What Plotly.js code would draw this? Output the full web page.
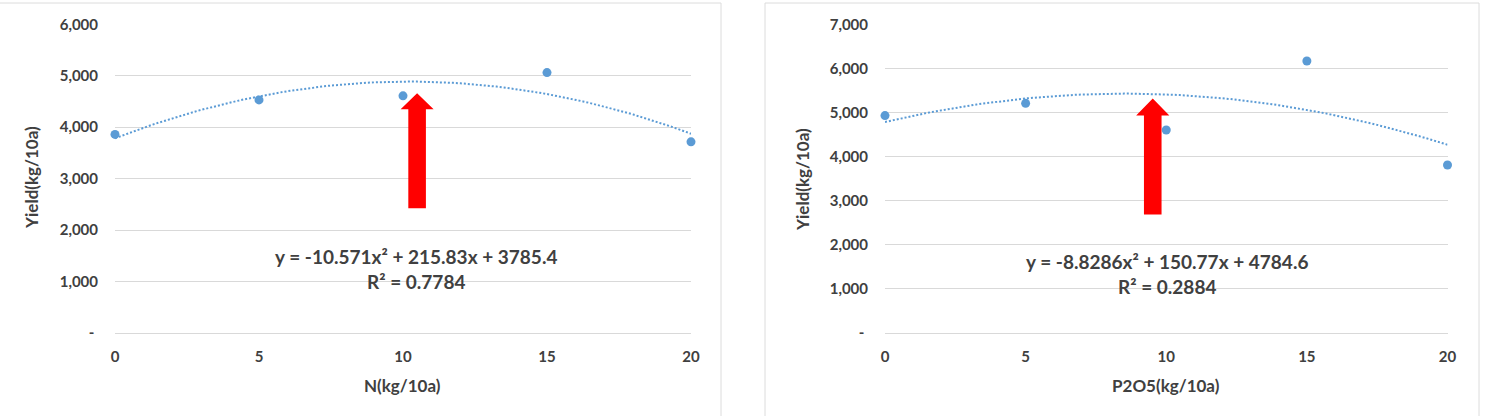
<!DOCTYPE html>
<html>
<head>
<meta charset="utf-8">
<script src="https://cdn.plot.ly/plotly-3.0.1.min.js"></script>
<style>
  html, body { margin: 0; padding: 0; background: #ffffff; }
  #chart { width: 1487px; height: 416px; }
</style>
</head>
<body>
<div id="chart"></div>
<script>
// ---- Data ----
const nLevels = [0, 5, 10, 15, 20];
const nYield = [3860, 4531, 4609, 5062, 3715];
const pLevels = [0, 5, 10, 15, 20];
const pYield = [4930, 5208, 4603, 6168, 3810];

// Polynomial trendline coefficients shown on the chart (a, b, c for a*x^2 + b*x + c)
const nTrendCoef = [-10.571, 215.83, 3785.4];
const pTrendCoef = [-8.8286, 150.77, 4784.6];
const nEquation = "y = -10.571x² + 215.83x + 3785.4";
const nR2 = "R² = 0.7784";
const pEquation = "y = -8.8286x² + 150.77x + 4784.6";
const pR2 = "R² = 0.2884";

// Ticks
const xTickVals = [0, 5, 10, 15, 20];
const xTickText = ["0", "5", "10", "15", "20"];
const nYTickVals = [0, 1000, 2000, 3000, 4000, 5000, 6000];
const nYTickText = ["- ", "1,000", "2,000", "3,000", "4,000", "5,000", "6,000"];
const pYTickVals = [0, 1000, 2000, 3000, 4000, 5000, 6000, 7000];
const pYTickText = ["- ", "1,000", "2,000", "3,000", "4,000", "5,000", "6,000", "7,000"];

const nXTitle = "N(kg/10a)";
const pXTitle = "P2O5(kg/10a)";
const yTitle = "Yield(kg/10a)";

// Red arrows (tip location in data units of each chart)
const nArrowTip = [10.49, 4660];
const pArrowTip = [9.52, 5320];

// ---- Layout helpers ----
const W = 1487, H = 416;
const px = v => v / W;
const py = v => 1 - v / H;

function trend(coef) {
  const xs = [], ys = [];
  for (let i = 0; i <= 80; i++) {
    const x = i * 0.25;
    xs.push(x);
    ys.push(coef[0] * x * x + coef[1] * x + coef[2]);
  }
  return { xs, ys };
}
const nT = trend(nTrendCoef);
const pT = trend(pTrendCoef);

const blue = "#5B9BD5";
const textColor = "#404040";
const gridColor = "#d9d9d9";
const fontFam = "Lato, 'Open Sans', sans-serif";

const traces = [
  { x: nT.xs, y: nT.ys, xaxis: "x", yaxis: "y", mode: "lines",
    line: { color: blue, width: 2, dash: "2px,2px" }, hoverinfo: "skip", cliponaxis: false },
  { x: nLevels, y: nYield, xaxis: "x", yaxis: "y", mode: "markers",
    marker: { color: blue, size: 9 }, cliponaxis: false },
  { x: pT.xs, y: pT.ys, xaxis: "x2", yaxis: "y2", mode: "lines",
    line: { color: blue, width: 2, dash: "2px,2px" }, hoverinfo: "skip", cliponaxis: false },
  { x: pLevels, y: pYield, xaxis: "x2", yaxis: "y2", mode: "markers",
    marker: { color: blue, size: 9 }, cliponaxis: false }
];

const tickFont = { family: fontFam, size: 15, color: textColor, weight: "bold" };

function xAxis(domain, anchor) {
  return {
    domain: domain, anchor: anchor, range: [0, 20], tickvals: xTickVals, ticktext: xTickText,
    showgrid: false, zeroline: false, showline: false, ticks: "",
    tickfont: tickFont, ticklabelstandoff: 13, fixedrange: true
  };
}
function yAxis(domain, anchor, maxV, vals, text) {
  return {
    domain: domain, anchor: anchor, range: [0, maxV], tickvals: vals, ticktext: text,
    showgrid: true, gridcolor: gridColor, gridwidth: 1,
    zeroline: true, zerolinecolor: gridColor, zerolinewidth: 1,
    showline: false, ticks: "", tickfont: tickFont, ticklabelstandoff: 16, fixedrange: true
  };
}

const yDom = [py(333), py(24.3)];

function arrowPath(len, head, halfHead, halfShaft) {
  return `M 0 0 L ${halfHead} ${-head} L ${halfShaft} ${-head} L ${halfShaft} ${-len} ` +
         `L ${-halfShaft} ${-len} L ${-halfShaft} ${-head} L ${-halfHead} ${-head} Z`;
}

const shapes = [
  { type: "rect", xref: "paper", yref: "paper", x0: px(-2), x1: px(721), y0: py(430), y1: py(3),
    line: { color: "#dcdcdc", width: 1 }, fillcolor: "rgba(0,0,0,0)", layer: "below" },
  { type: "rect", xref: "paper", yref: "paper", x0: px(765), x1: px(1479), y0: py(430), y1: py(3),
    line: { color: "#dcdcdc", width: 1 }, fillcolor: "rgba(0,0,0,0)", layer: "below" },
  { type: "path", xref: "x", yref: "y", xsizemode: "pixel", ysizemode: "pixel",
    xanchor: nArrowTip[0], yanchor: nArrowTip[1],
    path: arrowPath(115, 16, 16.5, 8.8), fillcolor: "#FF0000", line: { width: 0 } },
  { type: "path", xref: "x2", yref: "y2", xsizemode: "pixel", ysizemode: "pixel",
    xanchor: pArrowTip[0], yanchor: pArrowTip[1],
    path: arrowPath(116, 17, 16.6, 8.8), fillcolor: "#FF0000", line: { width: 0 } }
];

const eqFont = { family: fontFam, size: 19, color: textColor, weight: "bold" };
const titleFont = { family: fontFam, size: 17, color: textColor, weight: "bold" };

function ann(text, x, y, font, extra) {
  return Object.assign({ text: text, xref: "paper", yref: "paper", x: px(x), y: py(y),
    xanchor: "center", yanchor: "middle", showarrow: false, font: font }, extra || {});
}

const annotations = [
  ann(nEquation, 416, 256, eqFont),
  ann(nR2, 416, 281, eqFont),
  ann(pEquation, 1167, 261, eqFont),
  ann(pR2, 1167, 286, eqFont),
  ann(nXTitle, 402, 385, titleFont),
  ann(pXTitle, 1166, 385, titleFont),
  ann(yTitle, 31, 178, titleFont, { textangle: -90 }),
  ann(yTitle, 802, 180, titleFont, { textangle: -90 })
];

const layout = {
  width: W, height: H,
  margin: { l: 0, r: 0, t: 0, b: 0 },
  paper_bgcolor: "#ffffff", plot_bgcolor: "rgba(0,0,0,0)",
  showlegend: false,
  xaxis: xAxis([px(115), px(691)], "y"),
  yaxis: yAxis(yDom, "x", 6000, nYTickVals, nYTickText),
  xaxis2: xAxis([px(885), px(1447.5)], "y2"),
  yaxis2: yAxis(yDom, "x2", 7000, pYTickVals, pYTickText),
  shapes: shapes,
  annotations: annotations,
  font: { family: fontFam, color: textColor }
};

Plotly.newPlot("chart", traces, layout, { displayModeBar: false, staticPlot: true });
</script>
</body>
</html>
